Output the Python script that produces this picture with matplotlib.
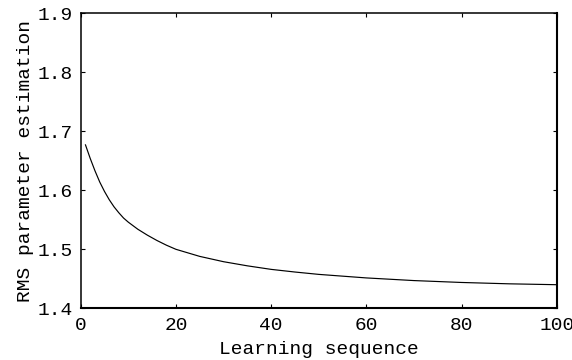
import matplotlib
matplotlib.use("Agg")
import matplotlib.pyplot as plt

# RMS error of the parameter estimate over the learning sequence
steps = [1, 2, 3, 4, 5, 6, 7, 8, 9, 10, 12, 14, 16, 18, 20, 25, 30, 35, 40, 45,
         50, 60, 70, 80, 90, 100]
rms = [1.677, 1.654, 1.633, 1.614, 1.598, 1.584, 1.572, 1.562, 1.553, 1.546,
       1.534, 1.524, 1.515, 1.507, 1.500, 1.488, 1.479, 1.472, 1.466, 1.4615,
       1.4575, 1.4515, 1.447, 1.4438, 1.4415, 1.440]

x_ticks = [0, 20, 40, 60, 80, 100]
y_ticks = [1.4, 1.5, 1.6, 1.7, 1.8, 1.9]
x_label = "Learning sequence"
y_label = "RMS parameter estimation"

plt.rcParams["font.family"] = ["Liberation Mono", "DejaVu Sans Mono"]
plt.rcParams["font.size"] = 14

fig = plt.figure(figsize=(5.72, 3.6), dpi=100)
ax = fig.add_axes([0.1411, 0.1436, 0.9733 - 0.1411, 0.963 - 0.1436])

ax.plot(steps, rms, color="black", linewidth=0.85)

ax.set_xlim(0, 100)
ax.set_ylim(1.4, 1.9)
ax.set_xticks(x_ticks)
ax.set_yticks(y_ticks)
ax.set_xticklabels([str(t) for t in x_ticks])
ax.set_yticklabels([f"{t:.1f}" for t in y_ticks])

ax.tick_params(direction="in", length=3, width=0.8, top=True, right=True,
               colors="black", labelsize=14)
ax.tick_params(axis="x", pad=6)
ax.tick_params(axis="y", pad=6)

for side, sp in ax.spines.items():
    sp.set_linewidth(1.5 if side in ("bottom", "right") else 1.1)
    sp.set_color("black")

ax.set_xlabel(x_label, fontsize=14, labelpad=5)
ax.set_ylabel(y_label, fontsize=14, labelpad=2)

fig.savefig("out.png", dpi=100, facecolor="white")
